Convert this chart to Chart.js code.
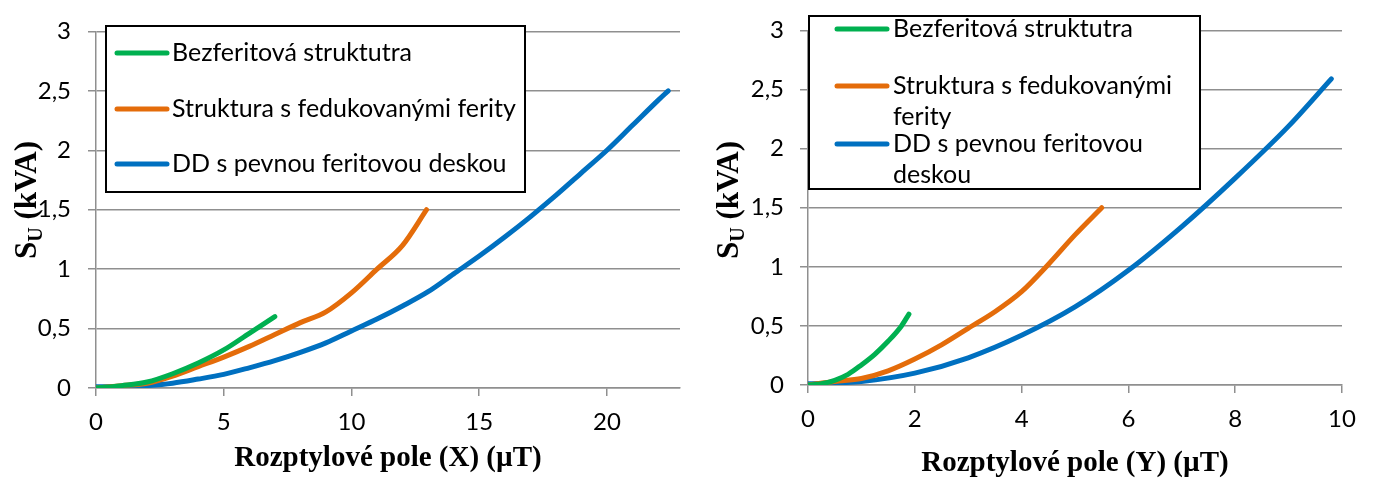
<!DOCTYPE html>
<html>
<head>
<meta charset="utf-8">
<script src="https://cdn.jsdelivr.net/npm/chart.js@4/dist/chart.umd.min.js"></script>
<style>
html, body { margin: 0; padding: 0; background: #fff; }
#wrap { position: relative; width: 1375px; height: 486px; }
.box { position: absolute; top: 0; height: 486px; }
</style>
</head>
<body>
<div id="wrap">
  <div class="box" style="left:0;width:690px"><canvas id="chart_x"></canvas></div>
  <div class="box" style="left:690px;width:685px"><canvas id="chart_y"></canvas></div>
</div>
<script>
"use strict";

// series names and colours (same for both panels)
var series_names = ['Bezferitová struktutra', 'Struktura s fedukovanými ferity', 'DD s pevnou feritovou deskou'];
var series_colors = ['#00b050', '#e46c0a', '#0070c0'];

// left panel: Rozptylové pole (X)
var x_green_x = [0, 1, 2, 3, 4, 5, 6, 7];
var x_green_y = [0, 0.02, 0.05, 0.12, 0.21, 0.32, 0.46, 0.6];
var x_orange_x = [0, 1, 2, 3, 4, 5, 6, 7, 8, 9, 10, 11, 12, 12.94];
var x_orange_y = [0, 0.02, 0.04, 0.1, 0.18, 0.26, 0.35, 0.45, 0.55, 0.64, 0.8, 1.0, 1.2, 1.5];
var x_blue_x = [0, 1, 2, 3, 4, 5, 6, 7, 8, 9, 10, 11, 12, 13, 14, 15, 16, 17, 18, 19, 20, 21, 22, 22.4];
var x_blue_y = [0.01, 0.01, 0.02, 0.04, 0.075, 0.115, 0.17, 0.23, 0.3, 0.38, 0.48, 0.58, 0.69, 0.81, 0.96, 1.11, 1.27, 1.44, 1.62, 1.81, 2.0, 2.21, 2.42, 2.5];

// right panel: Rozptylové pole (Y)
var y_green_x = [0, 0.25, 0.5, 0.75, 1, 1.25, 1.5, 1.75, 1.89];
var y_green_y = [0, 0.01, 0.04, 0.09, 0.17, 0.26, 0.37, 0.5, 0.6];
var y_orange_x = [0, 0.5, 1, 1.5, 2, 2.5, 3, 3.5, 4, 4.5, 5, 5.5];
var y_orange_y = [0, 0.03, 0.055, 0.12, 0.22, 0.34, 0.48, 0.62, 0.79, 1.02, 1.27, 1.5];
var y_blue_x = [0, 1, 2, 3, 4, 5, 6, 7, 8, 9, 9.8];
var y_blue_y = [0.01, 0.03, 0.1, 0.23, 0.42, 0.66, 0.97, 1.34, 1.75, 2.19, 2.59];

var su_ticks = [0, 0.5, 1, 1.5, 2, 2.5, 3];

var grid_color = '#8f8f8f';
var tick_font = { family: 'Lato', size: 24 };

var to_points = function (xs, ys) {
  return xs.map(function (x, i) { return { x: x, y: ys[i] }; });
};

var make_dataset = function (idx, xs, ys) {
  return {
    label: series_names[idx],
    data: to_points(xs, ys),
    borderColor: series_colors[idx],
    backgroundColor: series_colors[idx],
    borderWidth: 5,
    borderCapStyle: 'round',
    pointRadius: 0,
    tension: 0.4,
    cubicInterpolationMode: 'monotone',
    fill: false
  };
};

// y-axis title with subscript U
var su_title_plugin = {
  id: 'su_title',
  afterDraw: function (chart, args, opts) {
    var ctx = chart.ctx, big, small, w1, w2, w3, x0;
    big = 'bold 31px "Liberation Serif"';
    small = 'bold 20px "Liberation Serif"';
    ctx.save();
    ctx.translate(opts.x, opts.y);
    ctx.rotate(-Math.PI / 2);
    ctx.fillStyle = '#000';
    ctx.textBaseline = 'alphabetic';
    ctx.textAlign = 'left';
    ctx.font = big;
    w1 = ctx.measureText('S').width;
    w3 = ctx.measureText(' (kVA)').width;
    ctx.font = small;
    w2 = ctx.measureText('U').width;
    x0 = -(w1 + w2 + w3) / 2;
    ctx.font = big;
    ctx.fillText('S', x0, 0);
    ctx.font = small;
    ctx.fillText('U', x0 + w1, 6);
    ctx.font = big;
    ctx.fillText(' (kVA)', x0 + w1 + w2, 0);
    ctx.restore();
  }
};

// boxed legend drawn over the plot area
var box_legend_plugin = {
  id: 'box_legend',
  afterDraw: function (chart, args, opts) {
    var ctx = chart.ctx;
    ctx.save();
    ctx.fillStyle = '#fff';
    ctx.fillRect(opts.left, opts.top, opts.width, opts.height);
    ctx.strokeStyle = '#000';
    ctx.lineWidth = 2;
    ctx.strokeRect(opts.left, opts.top, opts.width, opts.height);
    ctx.font = '25px Lato';
    ctx.textBaseline = 'middle';
    ctx.textAlign = 'left';
    opts.rows.forEach(function (row, i) {
      ctx.strokeStyle = series_colors[i];
      ctx.lineWidth = 5;
      ctx.lineCap = 'round';
      ctx.beginPath();
      ctx.moveTo(opts.line_x0, row.y);
      ctx.lineTo(opts.line_x1, row.y);
      ctx.stroke();
      ctx.fillStyle = '#000';
      row.lines.forEach(function (txt, j) {
        ctx.fillText(txt, opts.text_x, row.y + j * opts.line_gap);
      });
    });
    ctx.restore();
  }
};

var make_chart = function (canvas_id, datasets, x_max, x_step, x_title, layout) {
  return new Chart(document.getElementById(canvas_id), {
    type: 'line',
    data: { datasets: datasets },
    plugins: [su_title_plugin, box_legend_plugin],
    options: {
      responsive: true,
      maintainAspectRatio: false,
      animation: false,
      layout: { padding: { left: 0, right: layout.pad_right, top: layout.pad_top, bottom: 0 } },
      plugins: {
        legend: { display: false },
        tooltip: { enabled: false },
        su_title: layout.su_title,
        box_legend: layout.legend
      },
      scales: {
        x: {
          type: 'linear',
          min: 0,
          max: x_max,
          afterFit: function (scale) { scale.height = layout.x_height; },
          ticks: {
            stepSize: x_step,
            includeBounds: false,
            color: '#000',
            font: tick_font,
            padding: 12,
            maxRotation: 0
          },
          grid: { drawOnChartArea: false, color: grid_color, lineWidth: 1.5, tickLength: 8 },
          border: { display: true, color: grid_color, width: 1.5 },
          title: {
            display: true,
            text: x_title,
            color: '#000',
            font: { family: 'Liberation Serif', size: 29, weight: 'bold' },
            padding: { top: 0, bottom: layout.x_title_pad }
          }
        },
        y: {
          min: 0,
          max: 3,
          afterFit: function (scale) { scale.width = layout.y_width; },
          afterBuildTicks: function (scale) {
            scale.ticks = su_ticks.map(function (v) { return { value: v }; });
          },
          ticks: {
            color: '#000',
            font: tick_font,
            padding: layout.y_tick_pad,
            callback: function (v) { return String(v).replace('.', ','); }
          },
          grid: { color: grid_color, lineWidth: 1.5, tickLength: 8 },
          border: { display: true, color: grid_color, width: 1.5 }
        }
      }
    }
  });
};

make_chart('chart_x', [
  make_dataset(0, x_green_x, x_green_y),
  make_dataset(1, x_orange_x, x_orange_y),
  make_dataset(2, x_blue_x, x_blue_y)
], 22.86, 5, 'Rozptylové pole (X) (µT)', {
  pad_right: 10,
  pad_top: 28,
  x_height: 98,
  y_width: 96,
  y_tick_pad: 17,
  x_title_pad: 10,
  su_title: { x: 36, y: 200 },
  legend: {
    left: 106, top: 26, width: 419, height: 166,
    line_x0: 117, line_x1: 167, text_x: 172, line_gap: 31,
    rows: [
      { y: 53, lines: [series_names[0]] },
      { y: 109, lines: [series_names[1]] },
      { y: 164, lines: [series_names[2]] }
    ]
  }
});

make_chart('chart_y', [
  make_dataset(0, y_green_x, y_green_y),
  make_dataset(1, y_orange_x, y_orange_y),
  make_dataset(2, y_blue_x, y_blue_y)
], 10, 2, 'Rozptylové pole (Y) (µT)', {
  pad_right: 33,
  pad_top: 14,
  x_height: 101,
  y_width: 118,
  y_tick_pad: 16,
  x_title_pad: 5,
  su_title: { x: 48, y: 200 },
  legend: {
    left: 119, top: 16, width: 391, height: 173,
    line_x0: 147, line_x1: 197, text_x: 203, line_gap: 31,
    rows: [
      { y: 29, lines: ['Bezferitová struktutra'] },
      { y: 86, lines: ['Struktura s fedukovanými', 'ferity'] },
      { y: 144, lines: ['DD s pevnou feritovou', 'deskou'] }
    ]
  }
});
</script>
</body>
</html>
